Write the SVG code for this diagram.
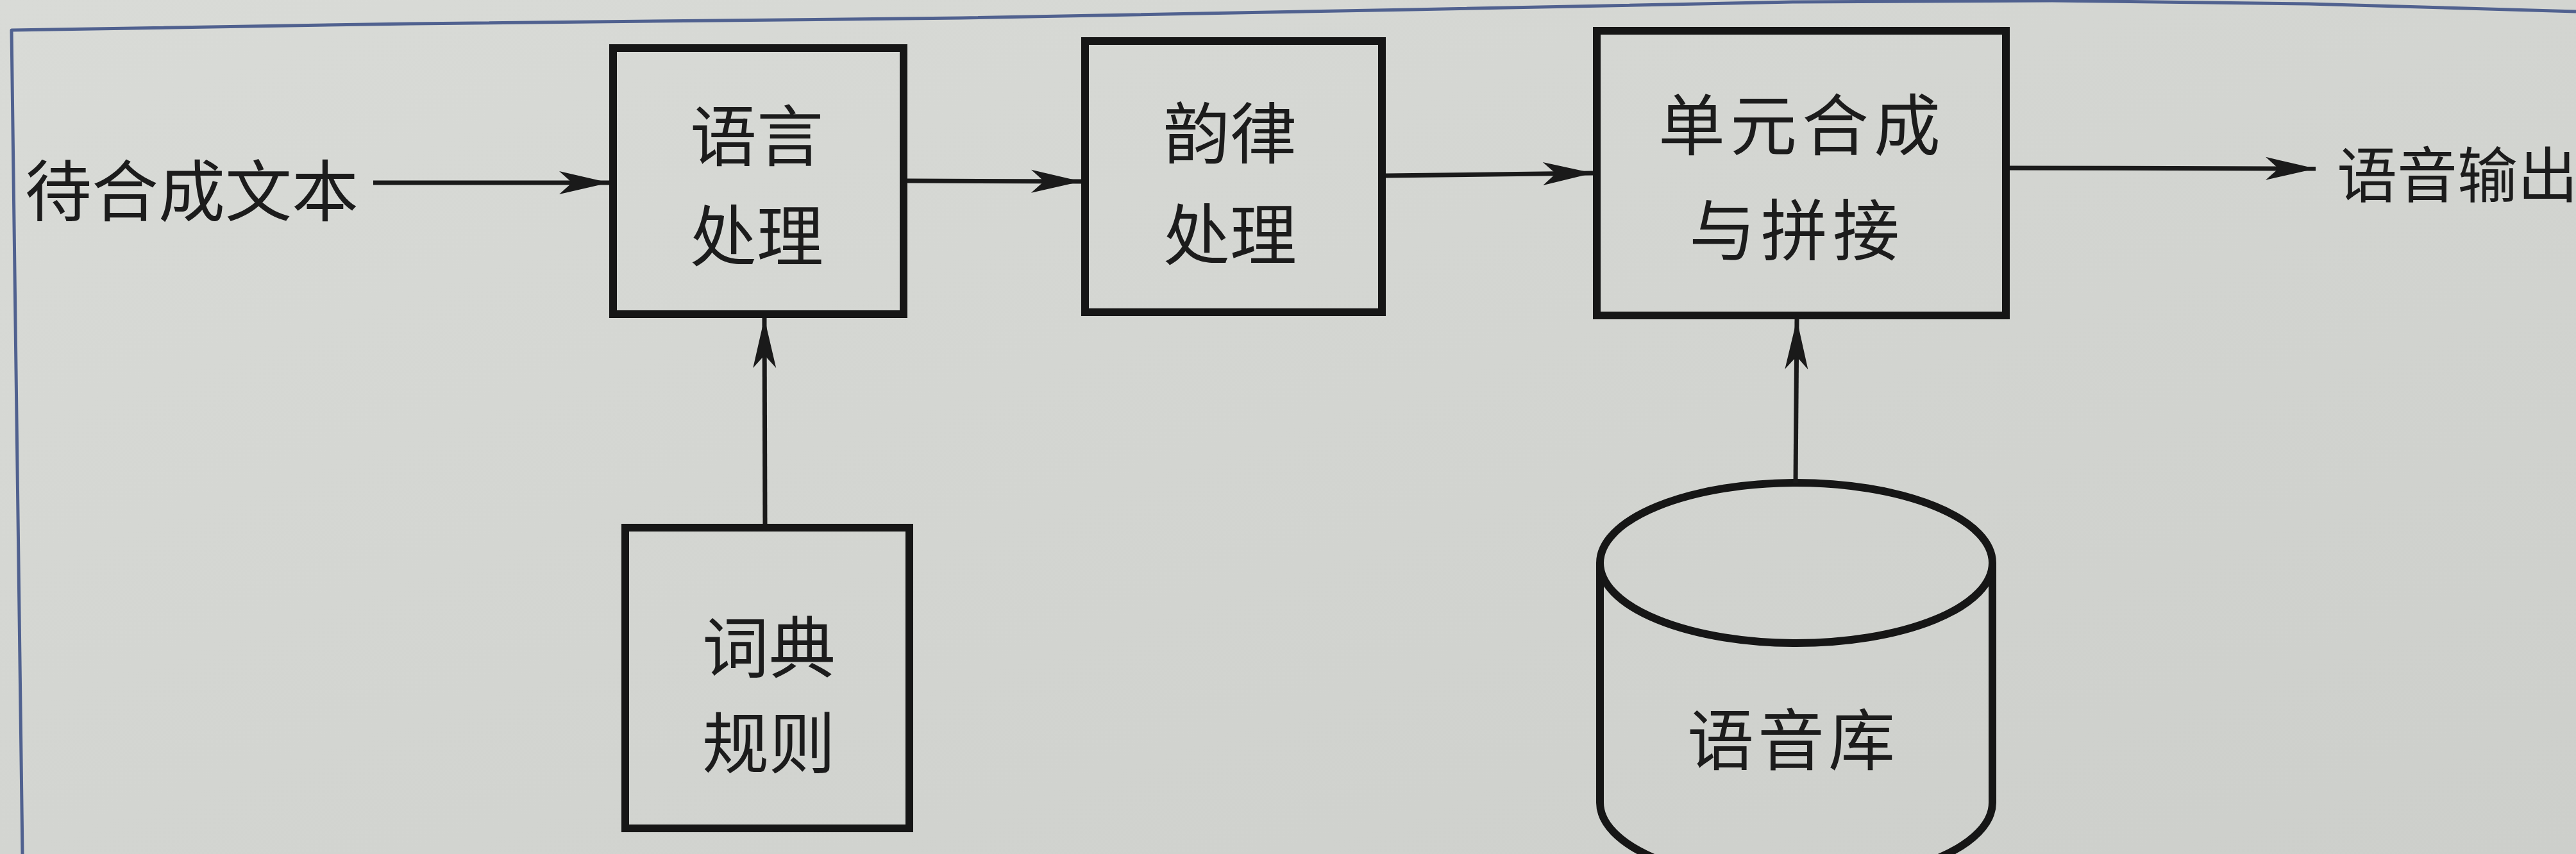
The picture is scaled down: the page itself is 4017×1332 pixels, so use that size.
<svg xmlns="http://www.w3.org/2000/svg" width="4017" height="1332" viewBox="0 0 4017 1332">
  <defs>
    <linearGradient id="paper" x1="0" y1="0" x2="1" y2="1">
      <stop offset="0" stop-color="#d9dbd7"/>
      <stop offset="0.5" stop-color="#d3d5d1"/>
      <stop offset="1" stop-color="#cdcfcb"/>
    </linearGradient>
    <marker id="arrow" viewBox="-80 -20 82 40" refX="0" refY="0" markerWidth="82" markerHeight="40" markerUnits="userSpaceOnUse" orient="auto">
      <path d="M0,0 L-78,-18 L-58,0 L-78,18 Z" fill="#1a1a1a"/>
    </marker>
  </defs>
  <style>
    .box { fill: none; stroke: #161616; stroke-width: 12; }
    .conn { fill: none; stroke: #1a1a1a; stroke-width: 7; marker-end: url(#arrow); }
    .label { font-family: "Noto Sans CJK SC", "Noto Sans CJK TC", sans-serif; font-size: 104px; fill: #1c1c1c; dominant-baseline: central; text-anchor: middle; }
    .frame { fill: none; stroke: #50618f; stroke-width: 5; stroke-linejoin: round; }
  </style>

  <rect x="0" y="0" width="4017" height="1332" fill="url(#paper)"/>

  <g id="frame">
    <path class="frame" d="M35,1332 L18,47 L640,37 L1500,28 L2200,15 L2800,3 L3200,1 L3600,6 L4017,18"/>
  </g>

  <g id="input-text">
    <text class="label" x="299" y="291">待合成文本</text>
  </g>

  <g id="node-language">
    <rect class="box" x="956" y="75" width="453" height="415"/>
    <text class="label" x="1180" y="205">语言</text>
    <text class="label" x="1180" y="361">处理</text>
  </g>

  <g id="node-prosody">
    <rect class="box" x="1692" y="64" width="463" height="423"/>
    <text class="label" x="1918" y="201">韵律</text>
    <text class="label" x="1918" y="359">处理</text>
  </g>

  <g id="node-unit">
    <rect class="box" x="2490" y="48" width="638" height="444"/>
    <text class="label" x="2810" y="188" letter-spacing="8">单元合成</text>
    <text class="label" x="2802" y="352" letter-spacing="8">与拼接</text>
  </g>

  <g id="output-text">
    <text class="label" x="3644" y="267" style="text-anchor:start;font-size:94px">语音输出</text>
  </g>

  <g id="node-dict">
    <rect class="box" x="975" y="823" width="443" height="469"/>
    <text class="label" x="1199" y="1003">词典</text>
    <text class="label" x="1199" y="1152">规则</text>
  </g>

  <g id="node-db">
    <path class="box" d="M2495,878 L2495,1252 A306,125 0 0 0 3107,1252 L3107,878"/>
    <ellipse class="box" cx="2801" cy="878" rx="306" ry="125"/>
    <text class="label" x="2796" y="1147" letter-spacing="6">语音库</text>
  </g>

  <g id="connectors">
    <line class="conn" x1="582" y1="285" x2="950" y2="285"/>
    <line class="conn" x1="1415" y1="282" x2="1686" y2="283"/>
    <line class="conn" x1="2161" y1="274" x2="2484" y2="270"/>
    <line class="conn" x1="3134" y1="262" x2="3611" y2="263"/>
    <line class="conn" x1="1193" y1="817" x2="1192" y2="496"/>
    <line class="conn" x1="2800" y1="753" x2="2802" y2="498"/>
  </g>
</svg>
